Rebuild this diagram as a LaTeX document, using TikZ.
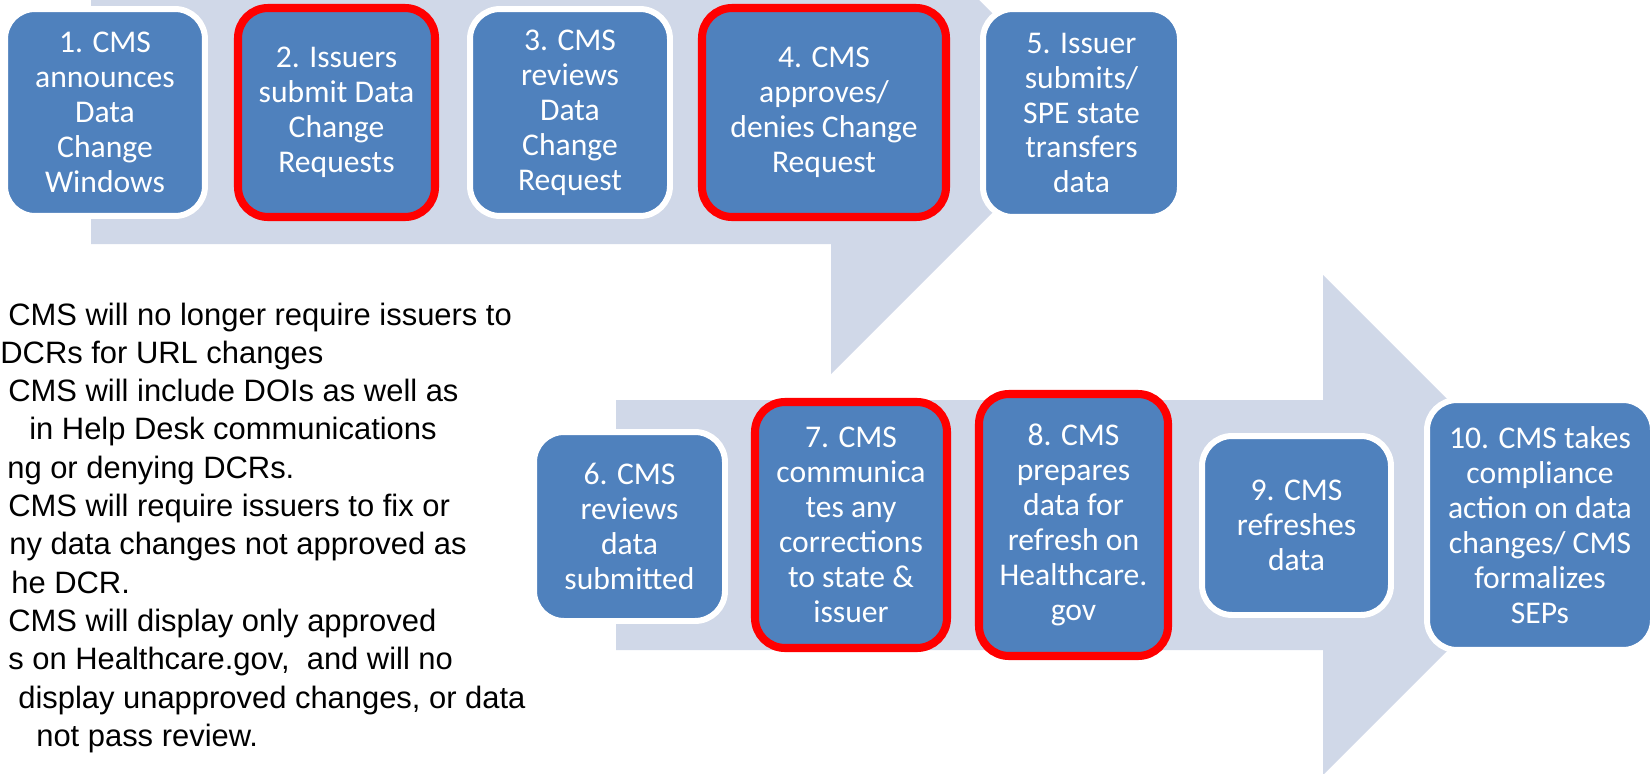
\documentclass[tikz,border=0pt]{standalone}
\usepackage{fontspec}
\setmainfont{Liberation Sans}
\newfontfamily\calibri{Carlito}
\usepackage{tikz}

\definecolor{boxblue}{RGB}{79,129,189}
\definecolor{bandgray}{RGB}{208,216,232}

\newcommand{\boxfont}{\calibri\fontsize{18}{19.9}\selectfont}
\newcommand{\notefont}{\fontsize{17.6}{21.8}\selectfont}

\tikzset{band/.style = {fill=bandgray}}
\tikzset{stepbox/.style = {rounded corners=0.6cm, fill=boxblue, draw=white, line width=3.4pt,
                           text=white, align=center, font=\boxfont, inner sep=0}}
\tikzset{keybox/.style = {stepbox, draw=red, line width=4.6pt}}
\tikzset{note/.style = {anchor=base west, inner sep=0, font=\notefont}}

\begin{document}
\begin{tikzpicture}[x=0.02cm, y=-0.02cm]
      \useasboundingbox (0, 0) rectangle (1650, 774);
      \clip (0, 0) rectangle (1650, 774);

      % the two block arrows behind the steps
      \fill [band] (91, -18) -- (831, -18) -- (831, -148) -- (1092, 113) -- (831, 374) -- (831, 244) -- (91, 244) -- cycle;
      \fill [band] (616, 400) -- (1323, 400) -- (1323, 275) -- (1573, 525) -- (1323, 775) -- (1323, 650) -- (616, 650) -- cycle;

      \node [stepbox, minimum width=4cm, minimum height=4.14cm] (announce) at (105, 112.5) {1. CMS\\announces\\Data\\Change\\Windows};
      \node [keybox, minimum width=3.94cm, minimum height=4.18cm] (submit) at (336.5, 112.5) {2. Issuers\\submit Data\\Change\\Requests};
      \node [stepbox, minimum width=4cm, minimum height=4.14cm] (review) at (570, 112.5) {3. CMS\\reviews\\Data\\Change\\Request};
      \node [keybox, minimum width=4.88cm, minimum height=4.18cm] (approve) at (824, 112.5) {4. CMS\\approves/\\denies Change\\Request};
      \node [stepbox, minimum width=3.94cm, minimum height=4.16cm] (transfer) at (1081.5, 113) {5. Issuer\\submits/\\SPE state\\transfers\\data};

      \node [stepbox, minimum width=3.82cm, minimum height=3.78cm] (check) at (629.5, 526.5) {6. CMS\\reviews\\data\\submitted};
      \node [keybox, minimum width=3.84cm, minimum height=4.92cm] (correct) at (851, 525) {7. CMS\\communica\\tes any\\corrections\\to state \&\\issuer};
      \node [keybox, minimum width=3.78cm, minimum height=5.24cm] (prepare) at (1073.5, 525) {8. CMS\\prepares\\data for\\refresh on\\Healthcare.\\gov};
      \node [stepbox, minimum width=3.78cm, minimum height=3.58cm] (refresh) at (1296.5, 525.5) {9. CMS\\refreshes\\data};
      \node [stepbox, minimum width=4.52cm, minimum height=5cm] (comply) at (1540, 525) {10. CMS takes\\compliance\\action on data\\changes/ CMS\\formalizes\\SEPs};

      % notes on the left
      \foreach \x/\t [count=\i from 0] in {8/CMS will no longer require issuers to,
                                           0/DCRs for URL changes,
                                           8/CMS will include DOIs as well as,
                                           29/in Help Desk communications,
                                           7/ng or denying DCRs.,
                                           8/CMS will require issuers to fix or,
                                           9/ny data changes not approved as,
                                           11/he DCR.,
                                           8/CMS will display only approved,
                                           {8/s on Healthcare.gov,\ \ and will no},
                                           {18/display unapproved changes, or data},
                                           36/not pass review.}
        \node [note] (note\i) at (\x, {325 + 38.3*\i}) {\t};
\end{tikzpicture}
\end{document}
